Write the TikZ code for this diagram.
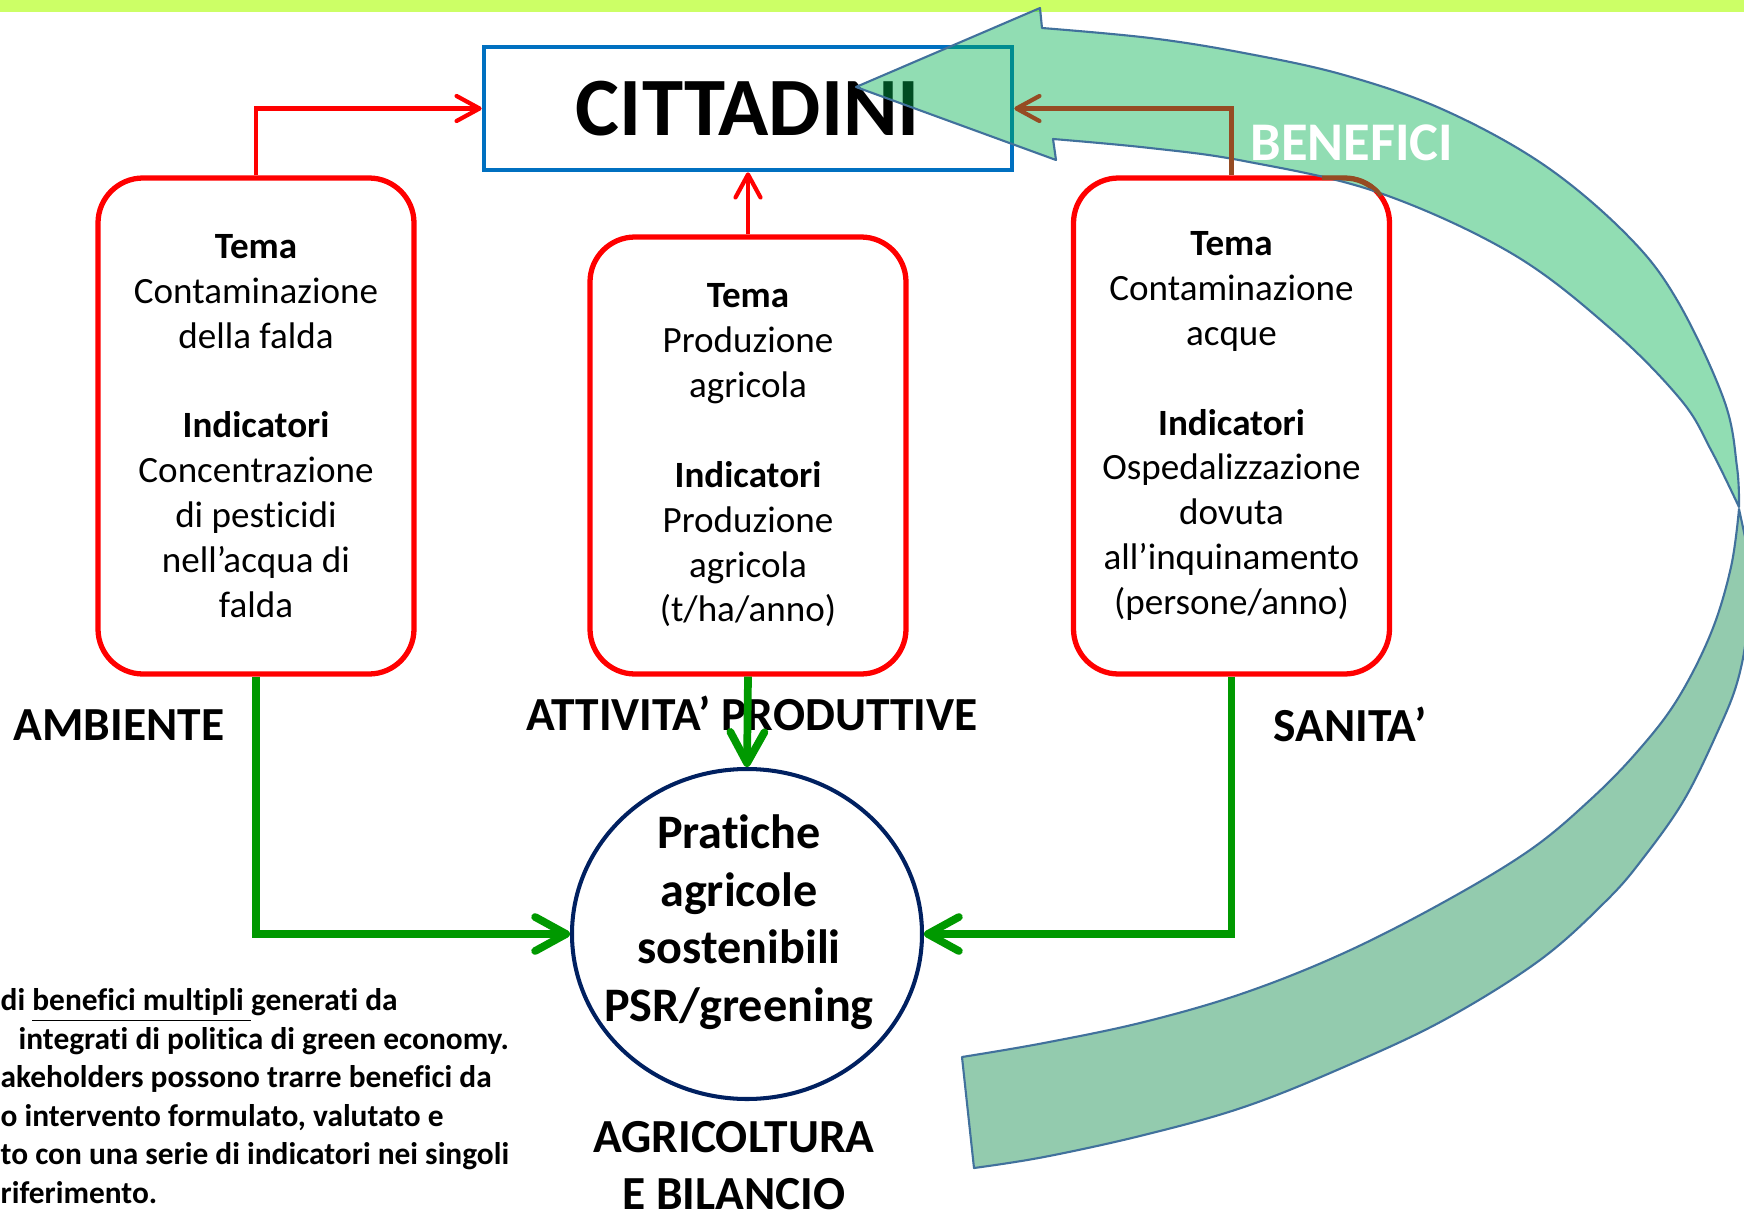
\documentclass[tikz,border=0pt]{standalone}
\usepackage{fontspec}
\setmainfont{Carlito}[Ligatures={TeX,NoCommon}]
\usetikzlibrary{arrows.meta,shapes.geometric,positioning}

\definecolor{bandGreen}{RGB}{204,255,102}
\definecolor{cittBlue}{RGB}{0,112,192}
\definecolor{temaRed}{RGB}{255,0,0}
\definecolor{linkBrown}{RGB}{150,75,35}
\definecolor{linkGreen}{RGB}{0,153,0}
\definecolor{pratNavy}{RGB}{0,32,96}
\definecolor{benEdge}{RGB}{65,113,156}
\definecolor{benFront}{RGB}{0,178,81}
\definecolor{benBack}{RGB}{147,203,174}

\tikzset{
  tema/.style={draw=temaRed, line width=1.5pt, rounded corners=4.5mm,
    minimum width=31.6mm, inner sep=0pt, align=center,
    font=\fontsize{10.55}{12.76}\selectfont},
  settore/.style={font=\bfseries\fontsize{13.5}{16.2}\selectfont, align=center, inner sep=0pt},
  redLink/.style={draw=temaRed, line width=1.2pt, -{Straight Barb[round,length=2.3mm,width=2.5mm]}},
  brownLink/.style={draw=linkBrown, line width=1.2pt, -{Straight Barb[round,length=2.3mm,width=2.5mm]}},
  greenLink/.style={draw=linkGreen, line width=2.2pt, -{Straight Barb[round,length=3.1mm,width=3.4mm]}},
  benFrontSide/.style={fill=benFront, fill opacity=0.43, draw=benEdge, line width=0.6pt, line join=round},
  benBackSide/.style={fill=benBack, draw=benEdge, line width=0.6pt, line join=round}
}

\begin{document}
\begin{tikzpicture}[x=0.1mm, y=-0.1mm]
 \useasboundingbox (0,0) rectangle (1744,1217);
 \fill[white] (0,0) rectangle (1744,1217);
 \clip (0,0) rectangle (1744,1217);
 \fill[bandGreen] (0,0) rectangle (1744,12);

 % destinatari
 \node[draw=cittBlue, line width=1.33pt, minimum width=52.8mm, minimum height=12.3mm,
   font=\bfseries\fontsize{23.6}{28}\selectfont] (cittadini) at (748,108.5) {CITTADINI};

 % temi e indicatori
 \node[tema, minimum height=49.6mm] (ambBox) at (256,426)
   {\textbf{Tema}\\Contaminazione\\della falda\\[\baselineskip]\textbf{Indicatori}\\Concentrazione\\di pesticidi\\nell’acqua di\\falda};
 \node[tema, minimum height=43.7mm] (attBox) at (748,455.5)
   {\textbf{Tema}\\Produzione\\agricola\\[\baselineskip]\textbf{Indicatori}\\Produzione\\agricola\\(t/ha/anno)};
 \node[tema, minimum height=49.6mm] (sanBox) at (1231.5,426)
   {\textbf{Tema}\\Contaminazione\\acque\\[\baselineskip]\textbf{Indicatori}\\Ospedalizzazione\\dovuta\\all’inquinamento\\(persone/anno)};

 \node[ellipse, draw=pratNavy, line width=1.15pt, minimum width=35mm, minimum height=33mm,
   inner sep=0pt] (pratiche) at (747,934) {};
 \node[settore, font=\bfseries\fontsize{13.7}{16.4}\selectfont] (pratTxt) at (739,922)
   {Pratiche\\agricole\\sostenibili\\PSR/greening};

 % settori
 \node[settore] (ambLbl) at (119,725) {AMBIENTE};
 \node[settore] (attLbl) at (752,713) {ATTIVITA’ PRODUTTIVE};
 \node[settore] (sanLbl) at (1350,724) {SANITA’};
 \node[settore] (agrLbl) at (734,1166) {AGRICOLTURA\\E BILANCIO};

 % collegamenti
 \draw[redLink] (ambBox.north) |- (cittadini.west);
 \draw[redLink] (attBox.north) -- (cittadini.south);
 \draw[greenLink] (ambBox.south) |- (pratiche.west);
 \draw[greenLink] (attBox.south) -- (pratiche.north);
 \draw[greenLink] (sanBox.south) |- (pratiche.east);

 % freccia benefici
 \path[benBackSide] (1739,509)
   -- plot[smooth, tension=0.6] coordinates {(1739,509) (1731,567) (1711,633) (1677,700) (1637,752)
        (1590,800) (1530,850) (1444,902) (1344,953) (1244,993) (1144,1022) (1044,1043) (962,1057)}
   -- (974,1168)
   -- plot[smooth, tension=0.6] coordinates {(974,1168) (1044,1157) (1144,1135) (1244,1107) (1344,1067)
        (1444,1020) (1540,960) (1607,900) (1644,857) (1684,800) (1717,733) (1737,683) (1747,630) (1750,560)}
   -- cycle;
 \path[benFrontSide] (856,87) -- (1040,8) -- (1042,28)
   -- plot[smooth, tension=0.6] coordinates {(1042,28) (1150,38) (1244,53) (1344,75) (1444,110)
        (1544,165) (1627,235) (1677,300) (1724,400) (1737,467) (1739,507)}
   -- plot[smooth, tension=0.6] coordinates {(1739,507) (1711,450) (1681,400) (1611,329) (1511,253)
        (1377,192) (1244,161) (1150,148) (1053,139)}
   -- (1056,160) -- cycle;

 \draw[brownLink] (sanBox.north) |- (cittadini.east);
 \draw[linkBrown, line width=1.2pt] (1322,178) -- (1344,178) .. controls (1362,178) and (1374,186) .. (1381,196);

 \node[text=white, font=\bfseries\fontsize{15.5}{18}\selectfont, inner sep=0pt] (benLbl) at (1352,143) {BENEFICI};

 % nota
 \node[anchor=north west, inner sep=0pt, align=left, font=\bfseries\fontsize{8.93}{10.95}\selectfont] (nota) at (0,988)
   {di \underline{benefici multipli\ }generati da\\
    \hspace*{1.8mm}integrati di politica di green economy.\\
    akeholders possono trarre benefici da\\
    o intervento formulato, valutato e\\
    to con una serie di indicatori nei singoli\\
    riferimento.};
\end{tikzpicture}
\end{document}
